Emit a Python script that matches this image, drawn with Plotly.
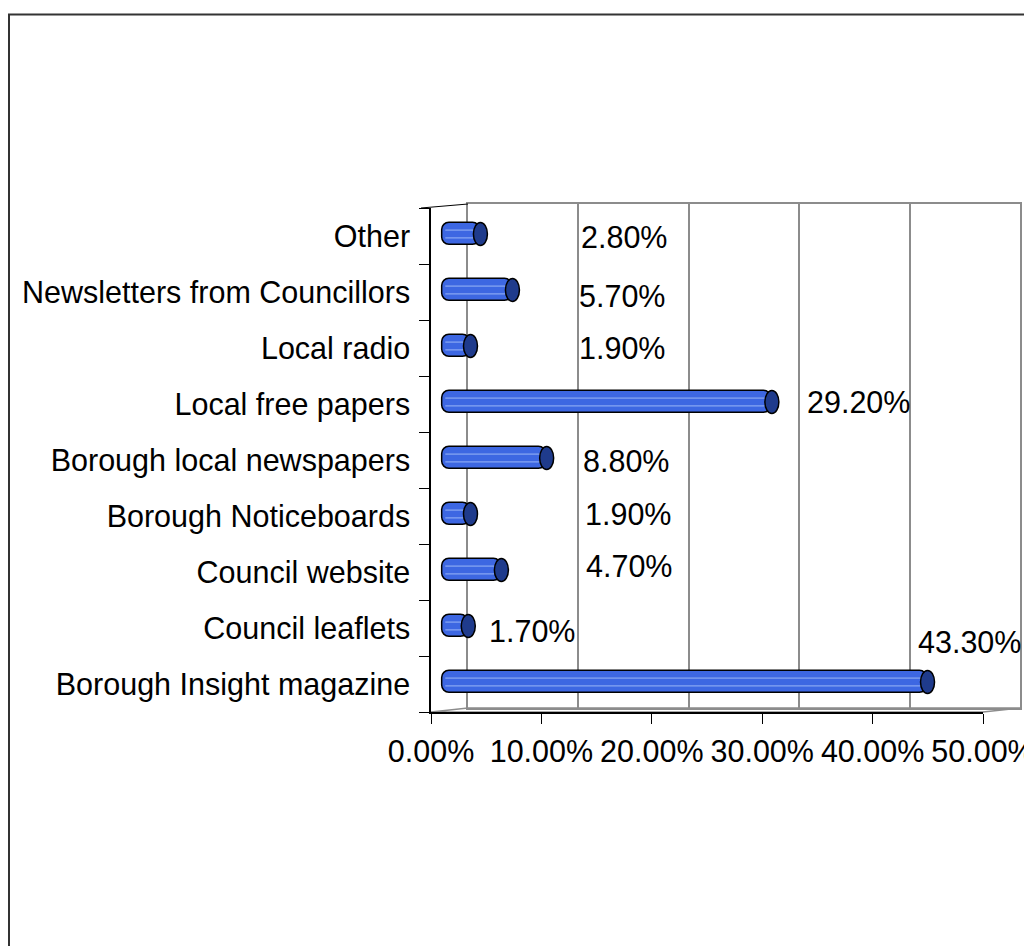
import plotly.graph_objects as go

# Sources of council information (share of respondents, %)
categories = ["Borough Insight magazine", "Council leaflets", "Council website",
              "Borough Noticeboards", "Borough local newspapers", "Local free papers",
              "Local radio", "Newsletters from Councillors", "Other"]
values = [43.3, 1.7, 4.7, 1.9, 8.8, 29.2, 1.9, 5.7, 2.8]
tick_vals = [0, 10, 20, 30, 40, 50]
tick_text = ["0.00%", "10.00%", "20.00%", "30.00%", "40.00%", "50.00%"]

# label nudges (px) to mimic Excel's 3D label placement
label_dx = [-12, 19, 83, 113, 34, 33, 107, 65, 99]
label_dy = [40, -5, 4, 0, -3, 0, -2, -6, -3]

W, H = 1032, 946
PAGE = 8  # default body margin of the html page
FONT = "Liberation Sans, Arial, sans-serif"
FS = 30.5

# front plot box in page pixels, depth offset of the 3D wall
fx0, fx1, fy0, fy1 = 431 - PAGE, 983 - PAGE, 208 - PAGE, 712 - PAGE
ddx, ddy = 37, -4
pxper = (fx1 - fx0) / 50  # pixels per percentage point
pad = 2  # extra room left of zero so the rounded bar ends are not clipped


def dom_x(a, b):
    return [a / W, b / W]


def dom_y(top, bottom):
    return [1 - bottom / H, 1 - top / H]


fig = go.Figure()

# back wall (x/y) - gridlines
fig.add_trace(go.Scatter(x=[None], y=[None], xaxis="x", yaxis="y",
                         showlegend=False, hoverinfo="skip"))

# cylinders at mid depth (x2/y2)
cap = 7 / pxper  # half-width of the end cap in data units
fig.add_trace(go.Bar(
    y=categories, x=[v + cap for v in values], base=-cap, orientation="h",
    xaxis="x2", yaxis="y2", width=0.41,
    marker=dict(color="#3d67e2", line=dict(color="#000000", width=1.5), cornerradius=8),
    showlegend=False, hoverinfo="skip"))

# front axes (x3/y3)
fig.add_trace(go.Scatter(x=[None], y=[None], xaxis="x3", yaxis="y3",
                         showlegend=False, hoverinfo="skip"))

shapes = []
for i, v in enumerate(values):
    for off in (-0.07, 0.07):
        shapes.append(dict(type="line", xref="x2", yref="y2", layer="above",
                           x0=-cap * 0.6, x1=v - cap * 0.5, y0=i + off, y1=i + off,
                           line=dict(color="rgba(170,195,250,0.85)", width=1)))
    shapes.append(dict(type="circle", xref="x2", yref="y2", layer="above",
                       x0=v - cap, x1=v + cap, y0=i - 0.205, y1=i + 0.205,
                       fillcolor="#1f3b8c", line=dict(color="#000000", width=1.5)))

# floor and left wall top edge
gray = "#8c8c8c"
shapes.append(dict(type="path", xref="paper", yref="paper", layer="below",
                   path=f"M {fx0/W},{1-fy1/H} L {(fx0+ddx)/W},{1-(fy1+ddy)/H} "
                        f"L {(fx1+ddx)/W},{1-(fy1+ddy)/H} L {fx1/W},{1-fy1/H} Z",
                   line=dict(color=gray, width=1.5), fillcolor="rgba(0,0,0,0)"))
shapes.append(dict(type="line", xref="paper", yref="paper",
                   x0=(fx0 - 10) / W, y0=1 - fy0 / H, x1=(fx0 + ddx) / W,
                   y1=1 - (fy0 + ddy) / H, line=dict(color="#000000", width=1)))
# chart area border
shapes.append(dict(type="rect", xref="paper", yref="paper",
                   x0=1 / W, y0=1 - (14.5 - PAGE) / H, x1=1.05, y1=-0.05,
                   line=dict(color="#333333", width=2)))

annotations = []
for i, v in enumerate(values):
    annotations.append(dict(xref="x2", yref="y2", x=v, y=i, text=f"{v:.2f}%",
                            showarrow=False, xanchor="left", yanchor="middle",
                            xshift=label_dx[i], yshift=label_dy[i],
                            font=dict(family=FONT, size=FS, color="#000000")))

hidden = dict(showgrid=False, zeroline=False, showticklabels=False, ticks="")

fig.update_layout(
    width=W, height=H, margin=dict(l=0, r=0, t=0, b=0, autoexpand=False),
    paper_bgcolor="white", plot_bgcolor="rgba(0,0,0,0)",
    font=dict(family=FONT, size=FS, color="#000000"),
    showlegend=False, bargap=0,
    xaxis=dict(domain=dom_x(fx0 + ddx, fx1 + ddx), range=[0, 50], anchor="y",
               showgrid=True, gridcolor=gray, gridwidth=1.5, tickvals=tick_vals,
               showline=True, mirror=True, linecolor=gray, linewidth=1.5,
               zeroline=False, showticklabels=False, ticks="", automargin=False),
    yaxis=dict(domain=dom_y(fy0 + ddy, fy1 + ddy), range=[0, 1], anchor="x",
               showline=True, mirror=True, linecolor=gray, linewidth=1.5,
               automargin=False, **hidden),
    xaxis2=dict(domain=dom_x(fx0 + ddx / 2 - pad * pxper, fx1 + ddx / 2),
                range=[-pad, 50], anchor="y2", visible=False, automargin=False),
    yaxis2=dict(domain=dom_y(fy0 + ddy / 2, fy1 + ddy / 2), type="category",
                categoryorder="array", categoryarray=categories,
                range=[-0.5, len(categories) - 0.5], anchor="x2", visible=False,
                automargin=False),
    xaxis3=dict(domain=dom_x(fx0, fx1), range=[0, 50], anchor="y3",
                showgrid=False, zeroline=False, showline=True, linecolor="#000000",
                linewidth=1.5, ticks="outside", ticklen=10, tickcolor="#000000",
                tickvals=tick_vals, ticktext=tick_text, automargin=False,
                ticklabeloverflow="allow", ticklabelstandoff=2,
                tickfont=dict(family=FONT, size=FS)),
    yaxis3=dict(domain=dom_y(fy0, fy1), type="category", categoryorder="array",
                categoryarray=categories, range=[-0.5, len(categories) - 0.5],
                anchor="x3", showgrid=False, zeroline=False, showline=True,
                linecolor="#000000", linewidth=1.5, ticks="outside", ticklen=10,
                tickcolor="#000000", tickson="boundaries", automargin=False,
                ticklabelstandoff=13, tickfont=dict(family=FONT, size=FS)),
    shapes=shapes, annotations=annotations,
)

fig.write_html("out.html")
